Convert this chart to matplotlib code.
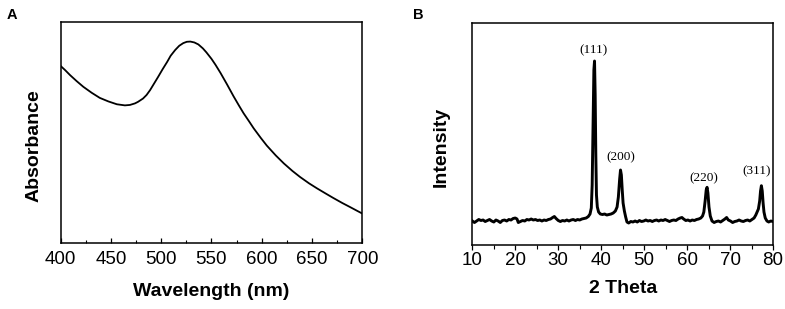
import matplotlib
matplotlib.use("Agg")
import matplotlib.pyplot as plt
from matplotlib.ticker import MultipleLocator, NullLocator

plt.rcParams["font.family"] = ["Liberation Sans", "DejaVu Sans"]

# Panel A: UV-vis absorbance (arbitrary units)
wavelength = [400, 404.5, 409.5, 416, 422.7, 431, 439, 447.5, 456, 464, 469,
              474, 477, 482, 485.5, 489, 493, 497, 501.5, 506, 509.5, 514, 518,
              522, 525.5, 529, 533, 537, 541.5, 545, 550, 554, 559, 565.5, 572,
              577.5, 582, 587.5, 592, 599, 605, 614, 622, 630.5, 638, 647, 655,
              663.5, 671, 680, 688, 695, 700]
absorbance = [0.800, 0.781, 0.758, 0.731, 0.705, 0.678, 0.655, 0.639, 0.626,
              0.621, 0.623, 0.630, 0.637, 0.652, 0.668, 0.690, 0.720, 0.750,
              0.785, 0.818, 0.846, 0.872, 0.891, 0.903, 0.909, 0.910, 0.906,
              0.897, 0.879, 0.861, 0.832, 0.805, 0.768, 0.716, 0.662, 0.619,
              0.585, 0.548, 0.517, 0.474, 0.439, 0.394, 0.358, 0.324, 0.297,
              0.268, 0.245, 0.222, 0.202, 0.179, 0.160, 0.143, 0.131]

# Panel B: XRD pattern (arbitrary units)
two_theta = [10.0, 10.5, 11.0, 11.5, 12.0, 12.5, 13.0, 13.5, 14.0, 14.5, 15.0,
             15.5, 16.0, 16.5, 17.0, 17.5, 18.0, 18.5, 19.0, 19.5, 20.0, 20.4,
             20.7, 21.2, 21.7, 22.2, 22.7, 23.2, 23.7, 24.2, 24.7, 25.2, 25.7,
             26.2, 26.7, 27.2, 27.7, 28.2, 28.7, 29.1, 29.5, 30.0, 30.5, 31.0,
             31.5, 32.0, 32.5, 33.0, 33.5, 34.0, 34.5, 35.0, 35.5, 36.0, 36.5,
             37.0, 37.4, 37.7, 37.9, 38.1, 38.3, 38.45, 38.6, 38.75, 38.9, 39.1,
             39.4, 39.8, 40.3, 40.8, 41.3, 41.8, 42.3, 42.8, 43.3, 43.7, 44.0,
             44.3, 44.5, 44.7, 44.9, 45.1, 45.4, 45.7, 46.0, 46.4, 46.9, 47.4,
             47.9, 48.4, 48.9, 49.4, 49.9, 50.4, 50.9, 51.4, 51.9, 52.4, 52.9,
             53.4, 53.9, 54.4, 54.9, 55.4, 55.9, 56.4, 56.9, 57.4, 57.9, 58.4,
             58.8, 59.2, 59.7, 60.2, 60.7, 61.2, 61.7, 62.2, 62.7, 63.2, 63.6,
             63.9, 64.2, 64.45, 64.65, 64.85, 65.1, 65.4, 65.8, 66.3, 66.8, 67.3,
             67.8, 68.3, 68.8, 69.2, 69.6, 70.1, 70.6, 71.1, 71.6, 72.1, 72.6,
             73.1, 73.6, 74.1, 74.6, 75.1, 75.6, 76.0, 76.3, 76.6, 76.9, 77.1,
             77.3, 77.5, 77.7, 77.9, 78.2, 78.6, 79.0, 79.5, 80.0]
intensity = [24, 22.5, 24, 25.5, 24.5, 25, 23.5, 24.5, 25.5, 24, 23, 25, 24,
             22.5, 24.5, 25, 24, 25.5, 25, 26.5, 27, 26, 22.5, 23.5, 24.5, 24,
             25.5, 25, 26, 25, 25.5, 24.5, 25, 24, 25, 24.5, 25.5, 26, 27.5,
             28.5, 26.5, 24.5, 23.5, 24.5, 24, 25, 24, 25, 25.5, 24.5, 25.5, 25,
             26, 26.5, 27, 28.5, 31, 37, 60, 120, 175, 184, 150, 90, 50, 38, 33,
             31, 30.5, 31, 30, 30.5, 31, 32, 34, 38, 48, 66, 75, 70, 55, 42, 34,
             28, 23, 22, 23.5, 23, 24, 23, 24.5, 23.5, 24, 25, 24, 24.5, 23.5,
             24.5, 25, 24, 25, 24.5, 25.5, 24.5, 23.5, 24.5, 25, 24.5, 26, 27,
             27.5, 26, 24.5, 25, 24, 25, 24.5, 25.5, 26, 27, 29, 33, 44, 55,
             57.7, 52, 38, 29, 24, 22.5, 23.5, 24, 23, 24.5, 26, 27.5, 25, 24,
             22.5, 23.5, 24, 25, 24, 23.5, 24.5, 25, 24, 25.5, 27, 30, 33, 36,
             44, 54, 59.3, 54, 42, 33, 27, 24, 23, 24, 23.5]

peak_labels = ["(111)", "(200)", "(220)", "(311)"]
peak_x = [38.2, 44.5, 64.0, 76.3]
peak_y = [195, 88, 67, 74]

fig = plt.figure(figsize=(7.85, 3.09), dpi=100)
axA = fig.add_axes([0.0771, 0.2152, 0.3845, 0.7146])
axB = fig.add_axes([0.6017, 0.2071, 0.3830, 0.7184])

# --- A ---
axA.plot(wavelength, absorbance, color="black", lw=1.3, solid_joinstyle="round")
axA.set_xlim(400, 700)
axA.set_ylim(0, 1)
axA.xaxis.set_major_locator(MultipleLocator(50))
axA.xaxis.set_minor_locator(MultipleLocator(25))
axA.yaxis.set_major_locator(NullLocator())
axA.tick_params(axis="x", which="major", direction="in", length=3.5, width=0.9,
                labelsize=13.5, pad=6)
axA.tick_params(axis="x", which="minor", direction="in", length=2, width=0.8)
axA.set_xlabel("Wavelength (nm)", fontsize=14, fontweight="bold")
axA.set_ylabel("Absorbance", fontsize=14, fontweight="bold")
axA.xaxis.set_label_coords(0.5, -0.185)
axA.yaxis.set_label_coords(-0.061, 0.44)

# --- B ---
axB.plot(two_theta, intensity, color="black", lw=2.1, solid_joinstyle="round")
axB.set_xlim(10, 80)
axB.set_ylim(0, 222)
axB.xaxis.set_major_locator(MultipleLocator(10))
axB.xaxis.set_minor_locator(MultipleLocator(5))
axB.yaxis.set_major_locator(NullLocator())
axB.tick_params(axis="x", which="major", direction="out", length=3.5, width=0.9,
                labelsize=13.5, pad=1.6)
axB.tick_params(axis="x", which="minor", direction="out", length=3, width=0.8)
axB.set_xlabel("2 Theta", fontsize=14, fontweight="bold")
axB.set_ylabel("Intensity", fontsize=14, fontweight="bold")
axB.xaxis.set_label_coords(0.5, -0.158)
axB.yaxis.set_label_coords(-0.074, 0.44)
for lab, x, y in zip(peak_labels, peak_x, peak_y):
    axB.text(x, y, lab, ha="center", va="center", fontsize=9.5,
             family=["Liberation Serif", "DejaVu Serif"])

for ax in (axA, axB):
    for sp in ax.spines.values():
        sp.set_linewidth(1.1)

fig.text(11.7 / 785, 1 - 15 / 309, "A", fontsize=10.5, fontweight="bold",
         ha="center", va="center")
fig.text(418 / 785, 1 - 15 / 309, "B", fontsize=10.5, fontweight="bold",
         ha="center", va="center")

fig.savefig("out.png", dpi=100)
